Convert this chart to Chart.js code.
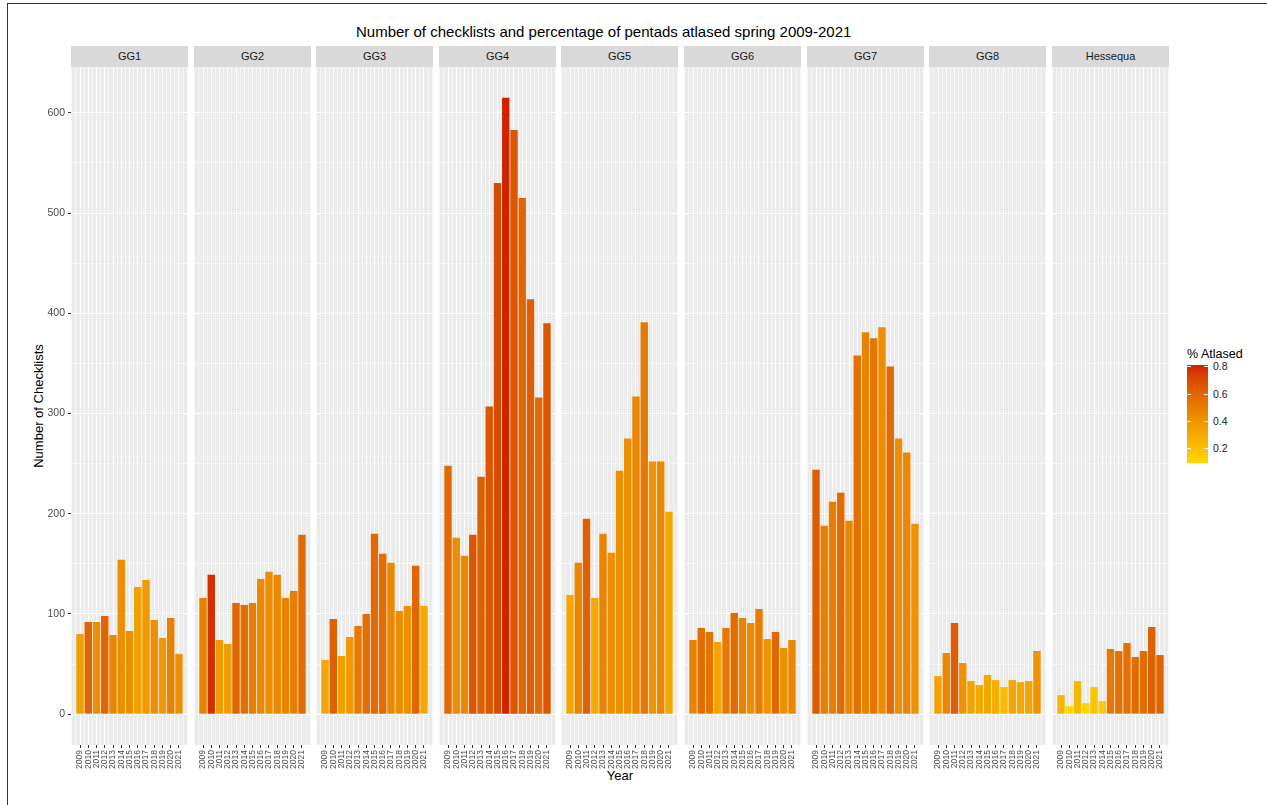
<!DOCTYPE html>
<html>
<head>
<meta charset="utf-8">
<script src="https://cdn.jsdelivr.net/npm/chart.js@4"></script>
<style>
  html, body { margin: 0; overflow: hidden; }
  body { width: 1267px; height: 805px; background: #fff; position: relative;
         font-family: "Liberation Sans", Arial, sans-serif; }
  .frame { position: absolute; left: 7px; top: 3px; width: 1260px; height: 802px;
           border-top: 1.5px solid #333; border-left: 1.5px solid #333; }
  .strip { position: absolute; top: 46px; height: 21px; line-height: 21px; background: #d9d9d9; color: #1a1a1a;
           font-size: 11px; text-align: center; }
  .panel { position: absolute; top: 67px; }
  .title { position: absolute; left: 356px; top: 23px; font-size: 15px; color: #000; white-space: nowrap; }
  .xtitle { position: absolute; left: 620px; top: 768px; font-size: 13px; transform: translateX(-50%); }
  .ytitle { position: absolute; left: 38px; top: 406px; font-size: 13px; white-space: nowrap;
            transform: translate(-50%, -50%) rotate(-90deg); }
  .legtitle { position: absolute; left: 1187px; top: 347px; font-size: 12.5px; }
  .bar { position: absolute; left: 1187px; top: 365px; width: 21px; height: 98px; }
  .tick { position: absolute; width: 4px; height: 1px; background: #fff; }
  .leglab { position: absolute; left: 1213px; font-size: 10.5px; color: #222; }
</style>
</head>
<body>
<div class="frame"></div>
<div class="title">Number of checklists and percentage of pentads atlased spring 2009-2021</div>
<div class="ytitle">Number of Checklists</div>
<div class="xtitle">Year</div>
<div class="legtitle">% Atlased</div>
<div id="legend"></div>
<div id="panels"></div>
<script>
const years = [2009, 2010, 2011, 2012, 2013, 2014, 2015, 2016, 2017, 2018, 2019, 2020, 2021];
const regions = ['GG1', 'GG2', 'GG3', 'GG4', 'GG5', 'GG6', 'GG7', 'GG8', 'Hessequa'];

// number of checklists per year
const gg1Checklists = [80, 92, 92, 98, 79, 154, 83, 127, 134, 94, 76, 96, 60];
const gg2Checklists = [116, 139, 74, 70, 111, 109, 111, 135, 142, 139, 116, 123, 179];
const gg3Checklists = [54, 95, 58, 77, 88, 100, 180, 160, 151, 103, 108, 148, 108];
const gg4Checklists = [248, 176, 158, 179, 237, 307, 530, 615, 583, 515, 414, 316, 390];
const gg5Checklists = [119, 151, 195, 116, 180, 161, 243, 275, 317, 391, 252, 252, 202];
const gg6Checklists = [74, 86, 82, 72, 86, 101, 96, 91, 105, 75, 82, 66, 74];
const gg7Checklists = [244, 188, 212, 221, 193, 358, 381, 375, 386, 347, 275, 261, 190];
const gg8Checklists = [38, 61, 91, 51, 33, 29, 39, 34, 27, 34, 32, 33, 63];
const hessequaChecklists = [19, 8, 33, 11, 27, 13, 65, 63, 71, 57, 63, 87, 59];

// share of pentads atlased per year
const gg1Atlased = [0.35, 0.60, 0.42, 0.60, 0.46, 0.43, 0.43, 0.35, 0.37, 0.42, 0.38, 0.48, 0.42];
const gg2Atlased = [0.48, 0.78, 0.37, 0.36, 0.60, 0.56, 0.50, 0.45, 0.43, 0.45, 0.47, 0.50, 0.57];
const gg3Atlased = [0.32, 0.62, 0.35, 0.37, 0.52, 0.56, 0.58, 0.57, 0.45, 0.43, 0.42, 0.60, 0.30];
const gg4Atlased = [0.58, 0.43, 0.45, 0.66, 0.62, 0.66, 0.70, 0.81, 0.66, 0.60, 0.63, 0.58, 0.66];
const gg5Atlased = [0.30, 0.46, 0.62, 0.30, 0.47, 0.42, 0.42, 0.42, 0.45, 0.52, 0.40, 0.45, 0.30];
const gg6Atlased = [0.47, 0.57, 0.55, 0.33, 0.52, 0.57, 0.47, 0.43, 0.50, 0.40, 0.60, 0.42, 0.45];
const gg7Atlased = [0.63, 0.48, 0.50, 0.58, 0.46, 0.56, 0.47, 0.53, 0.43, 0.58, 0.43, 0.46, 0.40];
const gg8Atlased = [0.33, 0.45, 0.63, 0.40, 0.33, 0.30, 0.32, 0.28, 0.22, 0.32, 0.30, 0.32, 0.40];
const hessequaAtlased = [0.25, 0.09, 0.24, 0.10, 0.18, 0.15, 0.52, 0.55, 0.55, 0.57, 0.57, 0.62, 0.60];

const legendTicks = [0.2, 0.4, 0.6, 0.8];

const checklists = [gg1Checklists, gg2Checklists, gg3Checklists, gg4Checklists, gg5Checklists,
                    gg6Checklists, gg7Checklists, gg8Checklists, hessequaChecklists];
const atlased = [gg1Atlased, gg2Atlased, gg3Atlased, gg4Atlased, gg5Atlased,
                 gg6Atlased, gg7Atlased, gg8Atlased, hessequaAtlased];

// colour scale: gold -> red, interpolated in Lab like ggplot
const lowColor = [255, 215, 0];
const highColor = [208, 36, 0];

function lin(c) { c /= 255; return c <= 0.04045 ? c / 12.92 : Math.pow((c + 0.055) / 1.055, 2.4); }
function gam(c) {
  c = c <= 0.0031308 ? 12.92 * c : 1.055 * Math.pow(c, 1 / 2.4) - 0.055;
  return Math.round(Math.max(0, Math.min(1, c)) * 255);
}
function f(t) { return t > 0.008856 ? Math.cbrt(t) : 7.787 * t + 16 / 116; }
function finv(t) { return t > 0.206893 ? t * t * t : (t - 16 / 116) / 7.787; }
function toLab(rgb) {
  const r = lin(rgb[0]), g = lin(rgb[1]), b = lin(rgb[2]);
  const x = (0.4124 * r + 0.3576 * g + 0.1805 * b) / 0.95047;
  const y = 0.2126 * r + 0.7152 * g + 0.0722 * b;
  const z = (0.0193 * r + 0.1192 * g + 0.9505 * b) / 1.08883;
  return [116 * f(y) - 16, 500 * (f(x) - f(y)), 200 * (f(y) - f(z))];
}
function fromLab(lab) {
  const fy = (lab[0] + 16) / 116, fx = fy + lab[1] / 500, fz = fy - lab[2] / 200;
  const x = finv(fx) * 0.95047, y = finv(fy), z = finv(fz) * 1.08883;
  const r = 3.2406 * x - 1.5372 * y - 0.4986 * z;
  const g = -0.9689 * x + 1.8758 * y + 0.0415 * z;
  const b = 0.0557 * x - 0.2040 * y + 1.0570 * z;
  return `rgb(${gam(r)},${gam(g)},${gam(b)})`;
}
const lowLab = toLab(lowColor), highLab = toLab(highColor);
const pMin = Math.min(...atlased.flat()), pMax = Math.max(...atlased.flat());
function fillFor(p) {
  const t = (p - pMin) / (pMax - pMin);
  return fromLab(lowLab.map((v, i) => v + (highLab[i] - v) * t));
}

// legend colour bar
const barTop = 365, barH = 98;
const legend = document.getElementById('legend');
const stops = [];
for (let i = 0; i <= 10; i++) stops.push(fillFor(pMax - (pMax - pMin) * i / 10) + ' ' + (i * 10) + '%');
legend.innerHTML += `<div class="bar" style="background:linear-gradient(to bottom, ${stops.join(',')})"></div>`;
legendTicks.forEach(v => {
  const y = barTop + (pMax - v) / (pMax - pMin) * barH;
  legend.innerHTML += `<div class="tick" style="left:1187px;top:${y}px"></div>`;
  legend.innerHTML += `<div class="tick" style="left:1204px;top:${y}px"></div>`;
  legend.innerHTML += `<div class="leglab" style="top:${y - 6}px">${v}</div>`;
});

// shared scales
const span = years[years.length - 1] - years[0] + 0.9;
const xMin = years[0] - 0.45 - 0.05 * span;
const xMax = years[years.length - 1] + 0.45 + 0.05 * span;
const maxCount = Math.max(...checklists.flat());
const yMin = -0.05 * maxCount, yMax = 1.05 * maxCount;

// grid every half year; chart.js sizes bars from the smallest tick gap, so scale width up
const xStep = 0.5;
const xGrid = [];
for (let v = years[0] - 1; v <= years[years.length - 1] + 1; v += xStep) xGrid.push(v);
const yGrid = [];
for (let v = 0; v <= yMax; v += 50) yGrid.push(v);

const panelBg = {
  id: 'panelBg',
  beforeDraw(chart) {
    const a = chart.chartArea, ctx = chart.ctx;
    ctx.save();
    ctx.fillStyle = '#ebebeb';
    ctx.fillRect(a.left, a.top, a.right - a.left, a.bottom - a.top);
    ctx.restore();
  }
};

const panelW = 117, pitch = 122.6, firstLeft = 71, yAxisW = 71, plotH = 678, xAxisH = 30;
const host = document.getElementById('panels');

regions.forEach((name, k) => {
  const left = Math.round(firstLeft + k * pitch);
  const first = k === 0;
  const strip = document.createElement('div');
  strip.className = 'strip';
  strip.style.left = left + 'px';
  strip.style.width = panelW + 'px';
  strip.textContent = name;
  host.appendChild(strip);

  const canvas = document.createElement('canvas');
  canvas.className = 'panel';
  const w = panelW + (first ? yAxisW : 0);
  canvas.width = w; canvas.height = plotH + xAxisH;
  canvas.style.left = (first ? left - yAxisW : left) + 'px';
  host.appendChild(canvas);

  new Chart(canvas, {
    type: 'bar',
    data: {
      datasets: [{
        data: years.map((yr, i) => ({ x: yr, y: checklists[k][i] })),
        backgroundColor: atlased[k].map(fillFor),
        borderWidth: 0,
        barPercentage: 0.9 / xStep,
        categoryPercentage: 1
      }]
    },
    options: {
      responsive: false,
      animation: false,
      devicePixelRatio: 1,
      layout: { padding: 0 },
      plugins: { legend: { display: false }, tooltip: { enabled: false } },
      scales: {
        x: {
          type: 'linear', min: xMin, max: xMax, offset: false,
          border: { display: false },
          grid: {
            offset: false,
            color: c => years.includes(c.tick.value) ? '#ffffff' : 'rgba(255,255,255,0.55)',
            lineWidth: 1,
            drawTicks: true, tickLength: 3, tickWidth: 1,
            tickColor: c => years.includes(c.tick.value) ? '#333333' : 'rgba(0,0,0,0)'
          },
          ticks: {
            autoSkip: false, minRotation: 90, maxRotation: 90, padding: 2,
            color: '#4d4d4d', font: { family: 'Liberation Sans', size: 8.5 },
            callback: v => years.includes(v) ? String(v) : ''
          },
          afterBuildTicks: s => { s.ticks = xGrid.map(v => ({ value: v })); },
          afterFit: s => { s.height = xAxisH; s.paddingLeft = 0; s.paddingRight = 0; }
        },
        y: {
          min: yMin, max: yMax,
          border: { display: false },
          grid: {
            color: c => c.tick.value % 100 === 0 ? '#ffffff' : 'rgba(255,255,255,0.55)',
            lineWidth: 1,
            drawTicks: first, tickLength: 3, tickWidth: 1,
            tickColor: c => c.tick.value % 100 === 0 ? '#333333' : 'rgba(0,0,0,0)'
          },
          ticks: {
            display: first, padding: 3,
            color: '#4d4d4d', font: { family: 'Liberation Sans', size: 10.5 },
            callback: v => v % 100 === 0 ? String(v) : ''
          },
          afterBuildTicks: s => { s.ticks = yGrid.map(v => ({ value: v })); },
          afterFit: s => { s.width = first ? yAxisW : 0; s.paddingTop = 0; s.paddingBottom = 0; }
        }
      }
    },
    plugins: [panelBg]
  });
});
</script>
</body>
</html>
